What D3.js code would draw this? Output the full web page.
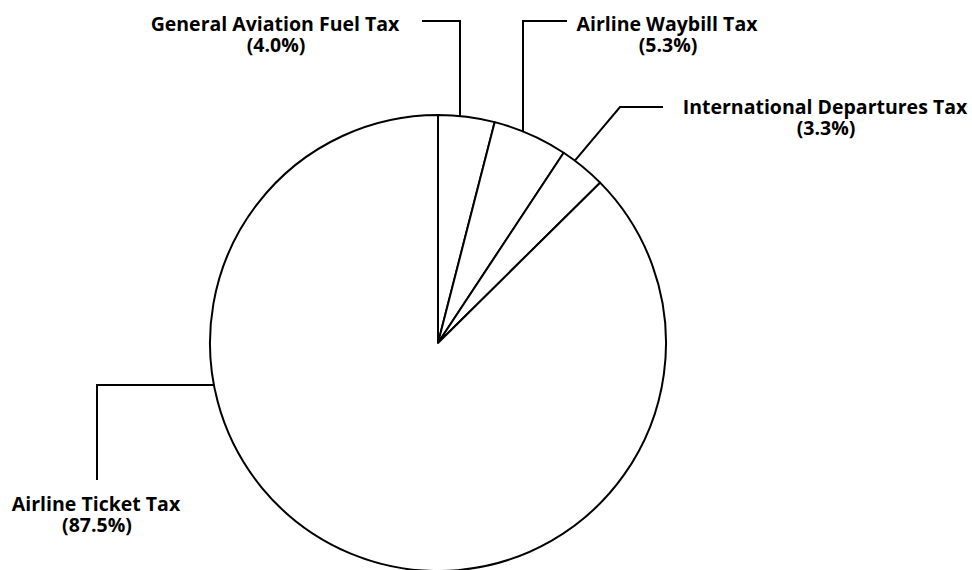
<!DOCTYPE html>
<html lang="en">
<head>
    <meta charset="UTF-8">
    <title>Aviation Taxes</title>
    <script src="https://d3js.org/d3.v7.min.js"></script>
    <style>
        body { margin: 0; background: #fff; }
        .lbl { font-family: "Open Sans", sans-serif; font-weight: bold; font-size: 19.5px; fill: #000; text-anchor: middle; }
        .leader { fill: none; stroke: #000; stroke-width: 2; }
    </style>
</head>
<body>
    <svg width="972" height="570"></svg>
    <script>
        // data, clockwise from 12 o'clock
        const categories = ["General Aviation Fuel Tax", "Airline Waybill Tax", "International Departures Tax", "Airline Ticket Tax"];
        const shares = [4.0, 5.3, 3.3, 87.5];
        const shareLabels = ["(4.0%)", "(5.3%)", "(3.3%)", "(87.5%)"];

        const cx = 438, cy = 343, radius = 228;

        // callout layout: where the leader touches the arc (fraction through slice),
        // the rest of the leader path and the label centre
        const callouts = [
            { t: 0.38, mode: "v", bend: [[460, 21], [422, 21]], tx: 275, ty: 31 },
            { t: 0.39, mode: "v", bend: [[523, 21], [567, 21]], tx: 667, ty: 31 },
            { t: 0.29, mode: "d", bend: [[620, 107], [663, 107]], tx: 825, ty: 114 },
            { t: 0.68, mode: "h", bend: [[97, 385], [97, 480]], tx: 96, ty: 511 }
        ];

        const svg = d3.select("svg");
        const g = svg.append("g").attr("transform", `translate(${cx},${cy})`);

        const pie = d3.pie().sort(null).value(d => d)(shares);
        const arc = d3.arc().innerRadius(0).outerRadius(radius);

        g.selectAll("path.slice")
            .data(pie)
            .enter()
            .append("path")
            .attr("class", "slice")
            .attr("d", arc)
            .attr("fill", "#fff")
            .attr("stroke", "#000")
            .attr("stroke-width", 2)
            .attr("stroke-linejoin", "round");

        const line = d3.line();
        pie.forEach((p, i) => {
            const c = callouts[i];
            const a = p.startAngle + (p.endAngle - p.startAngle) * c.t;
            const ax = cx + radius * Math.sin(a), ay = cy - radius * Math.cos(a);
            let pts;
            if (c.mode === "v") pts = [[c.bend[0][0], ay], ...c.bend];
            else if (c.mode === "h") pts = [[ax, c.bend[0][1]], ...c.bend];
            else pts = [[ax, ay], ...c.bend];
            svg.append("path").attr("class", "leader").attr("d", line(pts));

            svg.append("text").attr("class", "lbl")
                .attr("x", c.tx).attr("y", c.ty).text(categories[i]);
            svg.append("text").attr("class", "lbl")
                .attr("x", c.tx + 1).attr("y", c.ty + 21).text(shareLabels[i]);
        });
    </script>
</body>
</html>
